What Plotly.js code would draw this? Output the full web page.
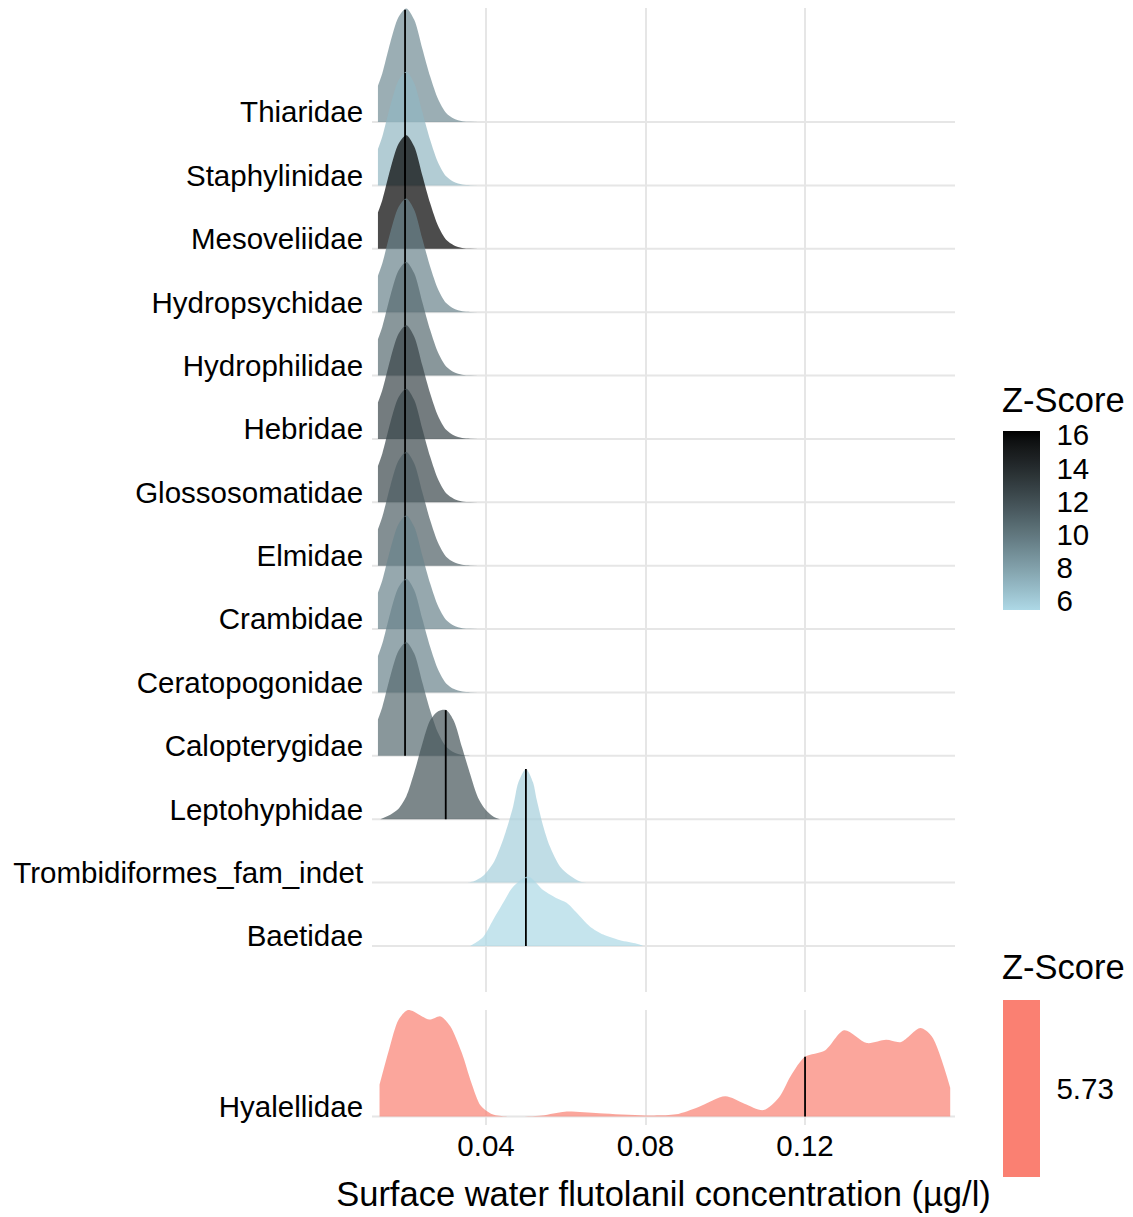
<!DOCTYPE html>
<html><head><meta charset="utf-8">
<script src="https://cdn.plot.ly/plotly-3.0.1.min.js"></script>
<style>html,body{margin:0;padding:0;background:#fff}</style>
</head><body><div id="chart" style="width:1133px;height:1217px"></div>
<script>
// ---------------- DATA ----------------
// top panel families, bottom row first
const families = ["Baetidae","Trombidiformes_fam_indet","Leptohyphidae","Calopterygidae","Ceratopogonidae","Crambidae","Elmidae","Glossosomatidae","Hebridae","Hydrophilidae","Hydropsychidae","Mesoveliidae","Staphylinidae","Thiaridae"];
const zScores  = [5.46, 5.9, 11.8, 10.6, 9.4, 9.4, 11.2, 12.5, 12.6, 10.6, 9.4, 16.24, 7.0, 9.0];
const medians  = [0.0500, 0.0500, 0.0299, 0.0197, 0.0197, 0.0197, 0.0197, 0.0197, 0.0197, 0.0197, 0.0197, 0.0197, 0.0197, 0.0197];
const profileOf = ["baet","trom","lept","main","main","main","main","main","main","main","main","main","main","main"];

// density profiles (relative height)
const mainX = [0.0129, 0.014, 0.016, 0.018, 0.020, 0.022, 0.024, 0.026, 0.028, 0.030, 0.032, 0.034, 0.036, 0.038];
const mainY = [0.32, 0.43, 0.70, 0.92, 1.00, 0.90, 0.65, 0.40, 0.20, 0.08, 0.03, 0.008, 0.002, 0.0];
const leptX = [0.0135, 0.016, 0.018, 0.020, 0.022, 0.024, 0.026, 0.028, 0.030, 0.032, 0.034, 0.036, 0.038, 0.040, 0.042, 0.0435];
const leptY = [0.0, 0.04, 0.09, 0.20, 0.41, 0.66, 0.87, 0.95, 0.96, 0.86, 0.63, 0.40, 0.19, 0.08, 0.02, 0.0];
const tromX = [0.0345, 0.0368, 0.0393, 0.0418, 0.0443, 0.0468, 0.0481, 0.0500, 0.0518, 0.0527, 0.0544, 0.0560, 0.0586, 0.0611, 0.0636, 0.066];
const tromY = [0.0, 0.01, 0.06, 0.17, 0.38, 0.67, 0.88, 1.00, 0.88, 0.73, 0.49, 0.32, 0.14, 0.06, 0.01, 0.0];
const baetX = [0.0360, 0.0393, 0.0418, 0.0443, 0.0468, 0.0506, 0.0544, 0.0577, 0.0602, 0.0628, 0.0661, 0.0694, 0.0736, 0.0778, 0.0795];
const baetY = [0.0, 0.08, 0.23, 0.38, 0.52, 0.61, 0.49, 0.42, 0.38, 0.29, 0.17, 0.10, 0.05, 0.02, 0.0];

// bottom panel
const bottomFamily = "Hyalellidae";
const bottomZ = 5.73;
const bottomMedian = 0.12;
const hyalX = [0.0133, 0.0157, 0.0181, 0.0205, 0.0258, 0.0286, 0.0310, 0.0339, 0.0363, 0.0387, 0.0416, 0.0454, 0.0540, 0.0598, 0.0684, 0.0799, 0.0876, 0.0933, 0.1000, 0.1048, 0.1096, 0.1135, 0.1164, 0.1200, 0.1250, 0.1298, 0.1355, 0.1403, 0.1441, 0.1489, 0.1518, 0.1564];
const hyalY = [0.30, 0.63, 0.91, 1.00, 0.91, 0.94, 0.85, 0.60, 0.32, 0.10, 0.02, 0.0, 0.01, 0.045, 0.03, 0.01, 0.02, 0.09, 0.19, 0.12, 0.06, 0.18, 0.38, 0.56, 0.62, 0.81, 0.69, 0.72, 0.70, 0.83, 0.75, 0.27];

const xTicks = [0.04, 0.08, 0.12];
const xTickText = ["0.04", "0.08", "0.12"];
const zTicks = [6, 8, 10, 12, 14, 16];

// ---------------- STYLE ----------------
const profiles = {main:[mainX,mainY], lept:[leptX,leptY], trom:[tromX,tromY], baet:[baetX,baetY]};
const zMin = Math.min(...zScores), zMax = Math.max(...zScores);
const LOW = [173,216,230], HIGH = [0,0,0];
const ALPHA = 0.7;
const ROW_PX = 63.38;       // pixels per row in the top panel
const ROW_SCALE = 1.794;    // ridge height in row units
const BOT_PX = 106.5;       // pixels per unit in the bottom panel
const LABEL_LIFT = 10;      // labels sit just above their baseline (px)
const TICK_FONT = 29.5, TITLE_FONT = 34.5;

// Lab interpolation (like ggplot2 gradients)
function toLin(c){c/=255; return c<=0.04045? c/12.92 : Math.pow((c+0.055)/1.055,2.4);}
function toSrgb(c){c = c<=0.0031308? 12.92*c : 1.055*Math.pow(c,1/2.4)-0.055; return Math.max(0,Math.min(255,Math.round(c*255)));}
const WN=[0.95047,1,1.08883];
function rgb2lab(rgb){
  const [r,g,b]=rgb.map(toLin);
  const X=(r*0.4124+g*0.3576+b*0.1805)/WN[0], Y=(r*0.2126+g*0.7152+b*0.0722)/WN[1], Z=(r*0.0193+g*0.1192+b*0.9505)/WN[2];
  const f=t=>t>0.008856? Math.cbrt(t) : 7.787*t+16/116;
  return [116*f(Y)-16, 500*(f(X)-f(Y)), 200*(f(Y)-f(Z))];
}
function lab2rgb([L,a,bb]){
  const fy=(L+16)/116, fx=fy+a/500, fz=fy-bb/200;
  const fi=t=>t**3>0.008856? t**3 : (t-16/116)/7.787;
  const X=fi(fx)*WN[0], Y=fi(fy)*WN[1], Z=fi(fz)*WN[2];
  const r= 3.2406*X-1.5372*Y-0.4986*Z, g=-0.9689*X+1.8758*Y+0.0415*Z, b=0.0557*X-0.2040*Y+1.0570*Z;
  return [toSrgb(r),toSrgb(g),toSrgb(b)];
}
const LAB_LOW = rgb2lab(LOW), LAB_HIGH = rgb2lab(HIGH);
function gradient(t){ return lab2rgb(LAB_LOW.map((v,i)=>v+(LAB_HIGH[i]-v)*t)); }
function colorFor(z){
  const c = gradient((z - zMin) / (zMax - zMin));
  return `rgba(${c[0]},${c[1]},${c[2]},${ALPHA})`;
}
const colorscale = [];
for (let k=0;k<=20;k++){ const c=gradient(k/20); colorscale.push([k/20, `rgb(${c[0]},${c[1]},${c[2]})`]); }

function interp(xs, ys, x){
  for (let i=0;i<xs.length-1;i++){
    if (x>=xs[i] && x<=xs[i+1]){ const f=(x-xs[i])/(xs[i+1]-xs[i]); return ys[i]+f*(ys[i+1]-ys[i]); }
  }
  return 0;
}

const traces = [];
function addRidge(xs, ys, base, scale, fill, med, xa, ya){
  traces.push({type:'scatter', mode:'lines', x:[xs[0], xs[xs.length-1]], y:[base, base],
    line:{width:0, color:'rgba(0,0,0,0)'}, hoverinfo:'skip', xaxis:xa, yaxis:ya});
  traces.push({type:'scatter', mode:'lines', x:xs, y:ys.map(v=>base+v*scale),
    line:{width:0, shape:'spline', smoothing:0.8, color:'rgba(0,0,0,0)'}, fill:'tonexty', fillcolor:fill,
    hoverinfo:'skip', xaxis:xa, yaxis:ya});
  const h = interp(xs, ys, med);
  traces.push({type:'scatter', mode:'lines', x:[med, med], y:[base, base+h*scale],
    line:{width:1.8, color:'#000'}, hoverinfo:'skip', xaxis:xa, yaxis:ya});
}
for (let i=families.length-1;i>=0;i--){
  const p = profiles[profileOf[i]];
  addRidge(p[0], p[1], i+1, ROW_SCALE, colorFor(zScores[i]), medians[i], 'x2', 'y2');
}
const SALMON = 'rgba(250,128,114,0.7)';
addRidge(hyalX, hyalY, 0, 1.0, SALMON, bottomMedian, 'x', 'y');

// colour bars (dummy markers outside the range)
const PLOT_L = 372, PLOT_W = 583, PLOT_B = 1125, PLOT_H = 1117;
const CB_X = (1003-PLOT_L)/PLOT_W, CB_W = 37;
const CB1_TOP = 431, CB1_LEN = 179, CB2_TOP = 1000, CB2_LEN = 177;
const bZlo = bottomZ-0.23, bZhi = bottomZ+0.23;
function cbar(cmin, cmax, cs, top, len, tv, tt){
  return {type:'scatter', mode:'markers', x:[-1,-1], y:[0,0], xaxis:'x', yaxis:'y', hoverinfo:'skip',
    marker:{size:1, opacity:0, color:[cmin,cmax], cmin:cmin, cmax:cmax, colorscale:cs, showscale:true,
      colorbar:{x:CB_X, xanchor:'left', xpad:0, y:(PLOT_B-(top+len/2))/PLOT_H, yanchor:'middle',
        len:len, lenmode:'pixels', ypad:0, thickness:CB_W, thicknessmode:'pixels', outlinewidth:0,
        tickvals:tv, ticktext:tt, ticks:'outside', ticklen:11, tickcolor:'rgba(0,0,0,0)',
        tickfont:{size:TICK_FONT, color:'#000'}}}};
}
traces.push(cbar(zMin, zMax, colorscale, CB1_TOP, CB1_LEN, zTicks, zTicks.map(String)));
traces.push(cbar(bZlo, bZhi, [[0,'rgb(250,128,114)'],[1,'rgb(250,128,114)']], CB2_TOP, CB2_LEN, [bottomZ], [bottomZ.toFixed(2)]));

// white legend ticks on both sides of each bar
const shapes = [];
function barTicks(vals, lo, hi, top, len){
  vals.forEach(v=>{
    const py = top + len - (v-lo)/(hi-lo)*len;
    const yp = (PLOT_B-py)/PLOT_H;
    [[0,7],[CB_W-7,CB_W]].forEach(([a,b])=>{
      shapes.push({type:'line', xref:'paper', yref:'paper', x0:CB_X+a/PLOT_W, x1:CB_X+b/PLOT_W, y0:yp, y1:yp,
        line:{color:'#fff', width:1.5}});
    });
  });
}
barTicks(zTicks, zMin, zMax, CB1_TOP, CB1_LEN);
barTicks([bottomZ], bZlo, bZhi, CB2_TOP, CB2_LEN);

// horizontal baseline grid lines (one per ridge)
const GRID = '#e6e6e6';
families.forEach((f,i)=>shapes.push({type:'line', layer:'below', xref:'x2 domain', yref:'y2', x0:0, x1:1, y0:i+1, y1:i+1, line:{color:GRID, width:2}}));
shapes.push({type:'line', layer:'below', xref:'x domain', yref:'y', x0:0, x1:1, y0:0, y1:0, line:{color:GRID, width:2}});

const xRange = [0.01141, 0.1576];
const yAxisCommon = {showgrid:false, zeroline:false, showline:false,
  ticks:'outside', ticklen:2, tickcolor:'rgba(0,0,0,0)', tickfont:{size:TICK_FONT, color:'#000'}, automargin:false};
const layout = {
  width:1133, height:1217,
  margin:{l:PLOT_L, r:1133-PLOT_L-PLOT_W, t:8, b:1217-PLOT_B},
  paper_bgcolor:'#fff', plot_bgcolor:'#fff',
  font:{family:'"Liberation Sans", Arial, sans-serif', color:'#000', size:TICK_FONT},
  showlegend:false,
  xaxis:{anchor:'y', range:xRange, tickvals:xTicks, ticktext:xTickText, showgrid:true, gridcolor:GRID, gridwidth:2,
    zeroline:false, showline:false, ticks:'', tickfont:{size:TICK_FONT, color:'#000'}, automargin:false,
    title:{text:'Surface water flutolanil concentration (µg/l)', font:{size:TITLE_FONT, color:'#000'}, standoff:21}},
  xaxis2:{anchor:'y2', matches:'x', range:xRange, tickvals:xTicks, showticklabels:false, showgrid:true, gridcolor:GRID, gridwidth:2,
    zeroline:false, showline:false, ticks:''},
  yaxis:Object.assign({domain:[0, 115/PLOT_H], range:[-0.08, 1.0], tickvals:[LABEL_LIFT/BOT_PX], ticktext:[bottomFamily]}, yAxisCommon),
  yaxis2:Object.assign({domain:[(PLOT_B-992)/PLOT_H, 1], range:[0.274, 15.8], tickvals:families.map((f,i)=>i+1+LABEL_LIFT/ROW_PX), ticktext:families}, yAxisCommon),
  shapes:shapes,
  annotations:[
    {text:'Z-Score', xref:'paper', yref:'paper', x:CB_X, y:(PLOT_B-400)/PLOT_H, xanchor:'left', yanchor:'middle', xshift:-3, showarrow:false, font:{size:TITLE_FONT, color:'#000'}},
    {text:'Z-Score', xref:'paper', yref:'paper', x:CB_X, y:(PLOT_B-967)/PLOT_H, xanchor:'left', yanchor:'middle', xshift:-3, showarrow:false, font:{size:TITLE_FONT, color:'#000'}}
  ]
};
Plotly.newPlot('chart', traces, layout, {displayModeBar:false, staticPlot:true});
</script></body></html>
